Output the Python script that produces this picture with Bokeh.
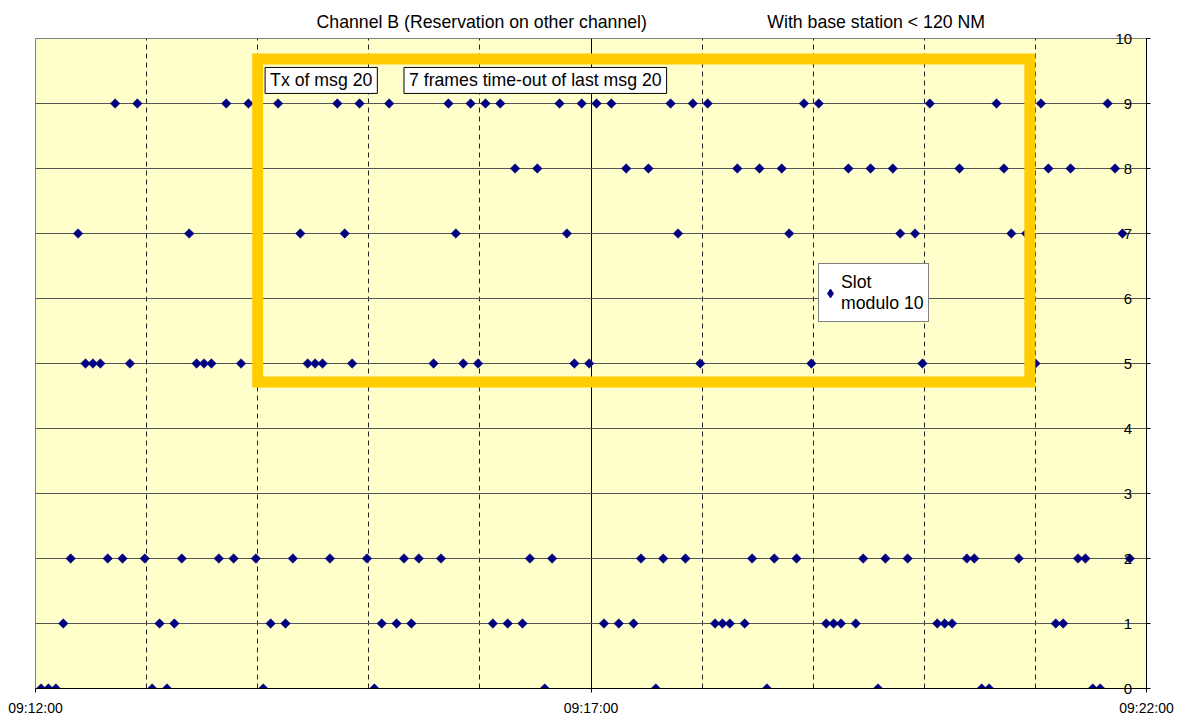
import math
import pandas as pd
from bokeh.plotting import figure
from bokeh.models import (ColumnDataSource, FixedTicker, DatetimeTickFormatter, Range1d,
                          BoxAnnotation, Label, Legend, LegendItem, LinearAxis,
                          CustomJSTickFormatter)
from bokeh.embed import file_html
from bokeh.resources import INLINE

# ---------------- data ----------------
title_left = "Channel B (Reservation on other channel)"
title_right = "With base station < 120 NM"
series_name = "Slot\nmodulo 10"
note_tx = "Tx of msg 20"
note_timeout = "7 frames time-out of last msg 20"

x_start = "09:12:00"
x_end = "09:22:00"
x_tick_labels = ["09:12:00", "09:17:00", "09:22:00"]
y_ticks = [0, 1, 2, 3, 4, 5, 6, 7, 8, 9, 10]

slot_0 = ["09:12:03", "09:12:07", "09:12:11", "09:13:03", "09:13:11", "09:14:03",
          "09:15:03", "09:16:35", "09:17:35", "09:18:35", "09:19:35", "09:20:31",
          "09:20:35", "09:21:31", "09:21:35"]
slot_1 = ["09:12:15", "09:13:07", "09:13:15", "09:14:07", "09:14:15", "09:15:07",
          "09:15:15", "09:15:23", "09:16:07", "09:16:15", "09:16:23", "09:17:07",
          "09:17:15", "09:17:23", "09:18:07", "09:18:11", "09:18:15", "09:18:23",
          "09:19:07", "09:19:11", "09:19:15", "09:19:23", "09:20:07", "09:20:11",
          "09:20:15", "09:21:11", "09:21:15"]
slot_2 = ["09:12:19", "09:12:39", "09:12:47", "09:12:59", "09:13:19", "09:13:39",
          "09:13:47", "09:13:59", "09:14:19", "09:14:39", "09:14:59", "09:15:19",
          "09:15:27", "09:15:39", "09:16:27", "09:16:39", "09:17:27", "09:17:39",
          "09:17:51", "09:18:27", "09:18:39", "09:18:51", "09:19:27", "09:19:39",
          "09:19:51", "09:20:23", "09:20:27", "09:20:51", "09:21:23", "09:21:27",
          "09:21:51"]
slot_5 = ["09:12:27", "09:12:31", "09:12:35", "09:12:51", "09:13:27", "09:13:31",
          "09:13:35", "09:13:51", "09:14:27", "09:14:31", "09:14:35", "09:14:51",
          "09:15:35", "09:15:51", "09:15:59", "09:16:51", "09:16:59", "09:17:59",
          "09:18:59", "09:19:59", "09:21:00"]
slot_7 = ["09:12:23", "09:13:23", "09:14:23", "09:14:47", "09:15:47", "09:16:47",
          "09:17:47", "09:18:47", "09:19:47", "09:19:55", "09:20:47", "09:20:55",
          "09:21:47"]
slot_8 = ["09:16:19", "09:16:31", "09:17:19", "09:17:31", "09:18:19", "09:18:31",
          "09:18:43", "09:19:19", "09:19:31", "09:19:43", "09:20:19", "09:20:43",
          "09:21:07", "09:21:19", "09:21:43"]
slot_9 = ["09:12:43", "09:12:55", "09:13:43", "09:13:55", "09:14:11", "09:14:43",
          "09:14:55", "09:15:11", "09:15:43", "09:15:55", "09:16:03", "09:16:11",
          "09:16:43", "09:16:55", "09:17:03", "09:17:11", "09:17:43", "09:17:55",
          "09:18:03", "09:18:55", "09:19:03", "09:20:03", "09:20:39", "09:21:03",
          "09:21:39"]

slot_series = [(0, slot_0), (1, slot_1), (2, slot_2), (5, slot_5),
               (7, slot_7), (8, slot_8), (9, slot_9)]

# ---------------- helpers ----------------
EPOCH = pd.Timestamp("1970-01-01")


def to_ms(t):
    return (pd.Timestamp("2000-01-01 " + t) - EPOCH) / pd.Timedelta(milliseconds=1)


xs, ys = [], []
for slot, times in slot_series:
    for t in times:
        xs.append(to_ms(t))
        ys.append(slot)
src = ColumnDataSource(dict(x=xs, y=ys))

FONT = "Liberation Sans"
NAVY = "#000080"

p = figure(width=1178, height=718, output_backend="svg", toolbar_location=None,
           x_axis_type="datetime", y_axis_location="right",
           x_range=Range1d(to_ms(x_start), to_ms(x_end)), y_range=Range1d(0, 10),
           min_border_left=35, min_border_right=32, min_border_top=38,
           min_border_bottom=29)
p.background_fill_color = "#FFFFCC"
p.border_fill_color = "white"
p.outline_line_color = "#808080"
p.outline_line_width = 1

# x axis
minute_marks = [to_ms(t.strftime("%H:%M:%S")) for t in
                pd.date_range("2000-01-01 " + x_start, "2000-01-01 " + x_end, freq="1min")]
major_ms = [to_ms(t) for t in x_tick_labels]
minor_ms = [m for m in minute_marks if m not in major_ms]
xticker = FixedTicker(ticks=major_ms, minor_ticks=minor_ms)
fmt = "%H:%M:%S"
p.xaxis.ticker = xticker
p.xaxis.formatter = DatetimeTickFormatter(milliseconds=fmt, seconds=fmt, minsec=fmt,
                                          minutes=fmt, hourmin=fmt, hours=fmt)
p.xaxis.axis_line_color = "black"
p.xaxis.major_tick_out = 4
p.xaxis.major_tick_in = 0
p.xaxis.minor_tick_out = 0
p.xaxis.minor_tick_in = 0
p.xaxis.major_tick_line_color = "black"
p.xaxis.major_label_standoff = 7
p.xaxis.major_label_text_font = FONT
p.xaxis.major_label_text_font_size = "14px"
p.xaxis.major_label_text_line_height = 1.0
p.xaxis.major_label_text_color = "black"

p.xgrid.ticker = xticker
p.xgrid.grid_line_color = "black"
p.xgrid.grid_line_width = 1
p.xgrid.minor_grid_line_color = "#222222"
p.xgrid.minor_grid_line_dash = "5 4"
p.xgrid.minor_grid_line_width = 1

# y axis (right): outward ticks, labels tucked inside the frame, right-aligned
# by giving one-digit labels a leading figure space (same width as a digit)
yticker = FixedTicker(ticks=y_ticks, minor_ticks=[])
p.yaxis.ticker = yticker
p.yaxis.major_label_overrides = {v: (str(v) if v >= 10 else "\u2007" + str(v))
                                 for v in y_ticks}
p.yaxis.axis_line_color = "black"
p.yaxis.major_tick_out = 4
p.yaxis.major_tick_in = 0
p.yaxis.minor_tick_out = 0
p.yaxis.minor_tick_in = 0
p.yaxis.major_label_standoff = -35
p.yaxis.major_label_text_font = FONT
p.yaxis.major_label_text_font_size = "15px"
p.yaxis.major_label_text_color = "black"
p.ygrid.ticker = yticker
p.ygrid.grid_line_color = "#555555"
p.ygrid.grid_line_width = 1

# titles: two text pieces above the frame
title_axis = LinearAxis(
    ticker=FixedTicker(ticks=[to_ms("09:16:01"), to_ms("09:19:34")], minor_ticks=[]),
    formatter=CustomJSTickFormatter(args=dict(labels=[title_left, title_right]),
                                    code="return labels[index]"),
    axis_line_color=None, major_tick_line_color=None, minor_tick_line_color=None,
    major_tick_out=0, major_tick_in=0, major_label_standoff=7,
    major_label_text_font=FONT, major_label_text_font_size="17.7px",
    major_label_text_line_height=1.0, major_label_text_color="black")
p.add_layout(title_axis, "above")

# data
r = p.scatter(x="x", y="y", source=src, marker="square", angle=math.pi / 4,
              size=6.8, fill_color=NAVY, line_color=NAVY, line_width=0.5)
# legend key (diamond); its single point is NaN so it draws nothing in the plot
key_src = ColumnDataSource(dict(x=[float("nan")], y=[float("nan")]))
r_key = p.scatter(x="x", y="y", source=key_src, marker="diamond",
                  fill_color=NAVY, line_color=NAVY)

# highlighted region (drawn shape)
p.add_layout(BoxAnnotation(left=to_ms("09:14:00"), right=to_ms("09:20:57"),
                           top=9.685, bottom=4.716, fill_alpha=0,
                           line_color="#FFCC00", line_alpha=1, line_width=11,
                           line_join="miter"))


def note(x, y, text):
    lab = Label(x=x, y=y, text=text, text_align="left", text_baseline="middle",
                text_font=FONT, text_font_size="17.7px", text_color="black",
                background_fill_color="white", border_line_color="black",
                border_line_width=1)
    try:
        lab.padding = dict(left=5, right=5, top=3, bottom=3)
    except Exception:
        lab.padding = 4
    return lab


p.add_layout(note(to_ms("09:14:04"), 9.355, note_tx))
p.add_layout(note(to_ms("09:15:19"), 9.355, note_timeout))

legend = Legend(items=[LegendItem(label=series_name, renderers=[r_key])],
                margin=0, spacing=0,
                glyph_width=22, glyph_height=22, label_standoff=0,
                label_text_font=FONT, label_text_font_size="17.7px",
                label_text_color="black", label_text_line_height=1.2,
                border_line_color="black", border_line_width=1,
                background_fill_color="white", background_fill_alpha=1)
try:
    legend.padding = dict(left=0, right=4, top=8, bottom=7)
    legend.location = (783, 366)
except Exception:
    legend.padding = 6
    legend.location = (778, 366)
p.add_layout(legend)

open("out.html", "w").write(file_html(p, INLINE))
